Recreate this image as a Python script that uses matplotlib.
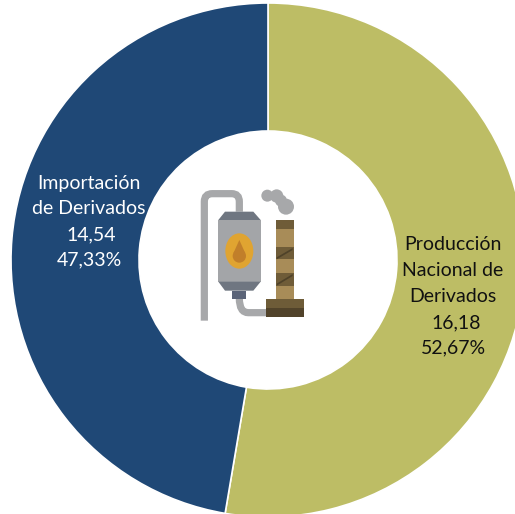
import matplotlib
matplotlib.use('Agg')
import matplotlib.pyplot as plt
from matplotlib.patches import Polygon, Rectangle, Ellipse, Circle, PathPatch
from matplotlib.path import Path

# Data
labels = ['Producción Nacional de Derivados', 'Importación de Derivados']
values = [16.18, 14.54]
percents = ['52,67%', '47,33%']
value_text = ['16,18', '14,54']
colors = ['#BDBD65', '#1F4876']

H = 514
plt.rcParams['font.family'] = ['Lato', 'DejaVu Sans']

fig = plt.figure(figsize=(5.15, 5.14), dpi=100)
ax = fig.add_axes([0, 0, 1, 1])

ax.pie(values, colors=colors, startangle=90, counterclock=False,
       center=(268, H - 260), radius=257,
       wedgeprops={'width': 128, 'edgecolor': 'white', 'linewidth': 1.2})
ax.set_xlim(0, 515)
ax.set_ylim(0, H)
ax.set_aspect('auto')
ax.axis('off')


# Text, one line at a time because the original lines are not evenly centred
def line(x, y, s, color):
    ax.text(x, H - y, s, color=color, fontsize=14, ha='center', va='center')


line(89, 184, 'Importación', 'white')
line(89, 209, 'de Derivados', 'white')
line(91, 235, value_text[1], 'white')
line(89, 260, percents[1], 'white')

line(453, 245, 'Producción', '#111111')
line(453, 270, 'Nacional de', '#111111')
line(453, 296, 'Derivados', '#111111')
line(456, 323, value_text[0], '#111111')
line(453, 348, percents[0], '#111111')


# Refinery icon, coordinates are crop pixels from the zoomed image
def z(px, py):
    return 180 + px / 3, H - (170 + py / 3)


def poly(pts, color, zorder=5):
    ax.add_patch(Polygon([z(*p) for p in pts], closed=True, fc=color, ec='none', zorder=zorder))


def rect(x0, y0, x1, y1, color, zorder=5):
    poly([(x0, y0), (x1, y0), (x1, y1), (x0, y1)], color, zorder)


def pipe(pts, codes):
    path = Path([z(*p) for p in pts], codes)
    ax.add_patch(PathPatch(path, fc='none', ec='#A7A8AA', lw=5.2, capstyle='butt', zorder=4))


M, L, C = Path.MOVETO, Path.LINETO, Path.CURVE3
pipe([(73, 452), (73, 95), (73, 71), (97, 71), (155, 71), (178, 71), (178, 95), (178, 125)],
     [M, L, C, C, L, C, C, L])
pipe([(178, 385), (178, 428), (205, 428), (260, 428)], [M, C, C, L])

# vessel
rect(115, 150, 242, 335, '#A3A5A8')
poly([(135, 125), (220, 125), (242, 150), (115, 150)], '#6F7681')
poly([(115, 335), (242, 335), (220, 362), (135, 362)], '#6F7681')
rect(157, 362, 198, 387, '#5B6478')
ax.add_patch(Ellipse(z(178, 243), 84 / 3, 106 / 3, fc='#E0A431', ec='none', zorder=6))
ax.add_patch(Circle(z(178, 258), 20 / 3, fc='#C17F2A', ec='none', zorder=7))
poly([(178, 210), (196, 250), (160, 250)], '#C17F2A', 7)

# chimney
rect(288, 150, 341, 388, '#A88C58')
rect(288, 150, 341, 178, '#6F5C38', 6)
rect(288, 230, 341, 268, '#6F5C38', 6)
rect(288, 308, 341, 347, '#6F5C38', 6)
poly([(290, 262), (338, 234), (338, 240), (290, 268)], '#4F4229', 7)
poly([(290, 341), (338, 312), (338, 318), (290, 347)], '#4F4229', 7)
rect(257, 388, 373, 414, '#6E5C38', 6)
rect(257, 414, 373, 440, '#51432A', 6)

# smoke
for cx, cy, r in [(262, 77, 18), (290, 78, 20), (303, 92, 18), (318, 110, 24)]:
    ax.add_patch(Circle(z(cx, cy), r / 3, fc='#A7A8AA', ec='none', zorder=5))

fig.savefig('out.png', dpi=100)
